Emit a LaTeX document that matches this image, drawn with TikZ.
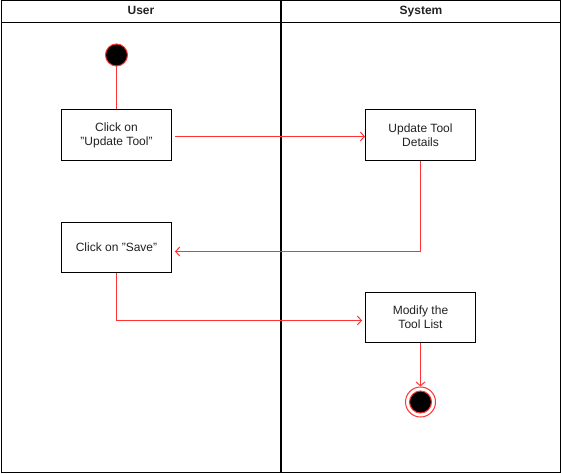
\documentclass[tikz,border=0pt]{standalone}
\usepackage{fontspec}
\setmainfont{Liberation Sans}
\usepackage{xcolor}
\usetikzlibrary{positioning,arrows.meta}
\definecolor{flowred}{HTML}{FF3333}
\definecolor{inkgray}{HTML}{222222}

\begin{document}
\begin{tikzpicture}[x=1pt, y=-1pt, line width=1pt,
  act/.style={draw, fill=white, minimum width=110pt, minimum height=50pt, align=center, text=inkgray, font=\fontsize{12}{14}\selectfont},
  lanehead/.style={font=\bfseries\fontsize{12}{14}\selectfont, text height=9pt, text depth=3pt, text=inkgray},
  flow/.style={draw=flowred, -{Straight Barb[length=4pt,width=9pt]}}]
  \useasboundingbox (0,0) rectangle (561,473);
  % Lanes
  \draw (1,1) rectangle (560,472);
  \draw (1,23) -- (560,23);
  \draw[line width=1.5pt] (281,1) -- (281,472);
  \node[lanehead] (user) at (141,12) {User};
  \node[lanehead] (system) at (421,12) {System};
  % Nodes
  \node[circle, draw=flowred, fill=black, minimum size=22pt, inner sep=0pt] (start) at (116.5,55) {};
  \node[act] (click) at (116.5,135) {Click on\\"Update Tool"};
  \node[act] (update) at (420.5,135) {Update Tool\\Details};
  \node[act] (save) at (116.5,247) {Click on "Save"};
  \node[act] (modify) at (420.5,317) {Modify the\\Tool List};
  \node[circle, draw=flowred, fill=white, minimum size=30pt, inner sep=0pt] (stop) at (420.5,402) {};
  \node[circle, draw=flowred, fill=black, minimum size=22pt, inner sep=0pt] (stopdot) at (stop) {};
  % Edges
  \draw[flowred] (start) -- (click);
  \draw[flow] ([shift={(3,1.5)}]click.east) -- ([shift={(0,1.5)}]update.west);
  \draw[flow] (update.south) |- ([shift={(3,4.5)}]save.east);
  \draw[flow] (save.south) |- ([shift={(-3,3.5)}]modify.west);
  \draw[flow] (modify.south) -- (stop.north);
\end{tikzpicture}
\end{document}
